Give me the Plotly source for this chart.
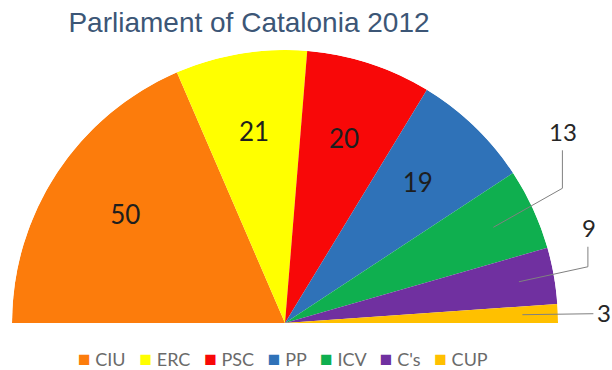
import math
import plotly.graph_objects as go

# ---- data ----
parties = ["CIU", "ERC", "PSC", "PP", "ICV", "C's", "CUP"]
seats = [50, 21, 20, 19, 13, 9, 3]
colors = ["#FC7C0C", "#FFFF00", "#F80808", "#2F72B8", "#0FAF4F", "#7030A0", "#FFC000"]
label_inside = [True, True, True, True, False, False, False]
title_text = "Parliament of Catalonia 2012"

# ---- geometry (pixels) ----
W, H = 612, 370
CX, CY, R = 285, 323, 273

total = sum(seats)
deg_per_seat = 180.0 / total
mids, widths = [], []
acc = 0
for v in seats:
    mids.append((acc + v / 2) * deg_per_seat)
    widths.append(v * deg_per_seat)
    acc += v

def px(x, y):
    return x / W, 1 - y / H

fig = go.Figure()
for p, v, c, m, w in zip(parties, seats, colors, mids, widths):
    fig.add_trace(go.Barpolar(
        r=[1], theta=[m], width=[w], name=p, showlegend=False,
        marker=dict(color=c, line=dict(width=0)),
        customdata=[v], hovertemplate="%{fullData.name}: %{customdata}<extra></extra>",
    ))

in_idx = [i for i, f in enumerate(label_inside) if f]
fig.add_trace(go.Scatterpolar(
    r=[0.70] * len(in_idx), theta=[mids[i] for i in in_idx],
    text=[str(seats[i]) for i in in_idx], mode="text", showlegend=False,
    textfont=dict(family="Lato", size=26, color="#1E1E1E"), hoverinfo="skip",
))

# leader-line styles for outside labels: (anchor radius frac, elbow dx, elbow dy, rise)
leader_style = {4: (0.84, 69, -39, 38), 5: (0.87, 69, -15, 20), 6: (0.87, 71, -1, 0)}
shapes, annots = [], []
for i, (rf, dx, dy, rise) in leader_style.items():
    a = math.radians(mids[i])
    x0 = CX - R * rf * math.cos(a)
    y0 = CY - R * rf * math.sin(a)
    x1, y1 = x0 + dx, y0 + dy
    x2, y2 = x1, y1 - rise
    p0, p1, p2 = px(x0, y0), px(x1, y1), px(x2, y2)
    shapes.append(dict(type="path", xref="paper", yref="paper",
                       path=f"M {p0[0]} {p0[1]} L {p1[0]} {p1[1]} L {p2[0]} {p2[1]}",
                       line=dict(color="#808080", width=1)))
    if rise > 0:
        lx, ly = px(x2 + 1, y2 - 19)
        annots.append(dict(x=lx, y=ly, xref="paper", yref="paper", text=str(seats[i]),
                           showarrow=False, xanchor="center", yanchor="middle",
                           font=dict(family="Lato", size=24, color="#262626")))
    else:
        lx, ly = px(x2 + 2, y2 - 1)
        annots.append(dict(x=lx, y=ly, xref="paper", yref="paper", text=str(seats[i]),
                           showarrow=False, xanchor="left", yanchor="middle",
                           font=dict(family="Lato", size=24, color="#262626")))

# legend row built from the party names and colours
legend_items = [f"<span style='color:{c};font-size:21px'>■</span>&nbsp;{p}"
                for p, c in zip(parties, colors)]
lx, ly = px(283, 357)
annots.append(dict(x=lx, y=ly, xref="paper", yref="paper",
                   text="&nbsp;&nbsp;&nbsp;".join(legend_items), showarrow=False,
                   xanchor="center", yanchor="middle",
                   font=dict(family="Lato", size=18, color="#6A6A6A")))

fig.update_layout(
    width=W, height=H,
    margin=dict(l=0, r=0, t=0, b=0),
    paper_bgcolor="white",
    showlegend=False,
    title=dict(text=title_text, x=249 / W, xanchor="center", y=1 - 22 / H, yanchor="middle",
               font=dict(family="Liberation Sans", size=28, color="#3C5676")),
    polar=dict(
        domain=dict(x=[(CX - R) / W, (CX + R) / W], y=[(H - CY) / H, (H - CY + R) / H]),
        sector=[0, 180], hole=0, bgcolor="white",
        angularaxis=dict(direction="clockwise", rotation=180, visible=False, showgrid=False),
        radialaxis=dict(range=[0, 1], visible=False, showgrid=False),
    ),
    shapes=shapes, annotations=annots,
)

fig.write_html("out.html")
